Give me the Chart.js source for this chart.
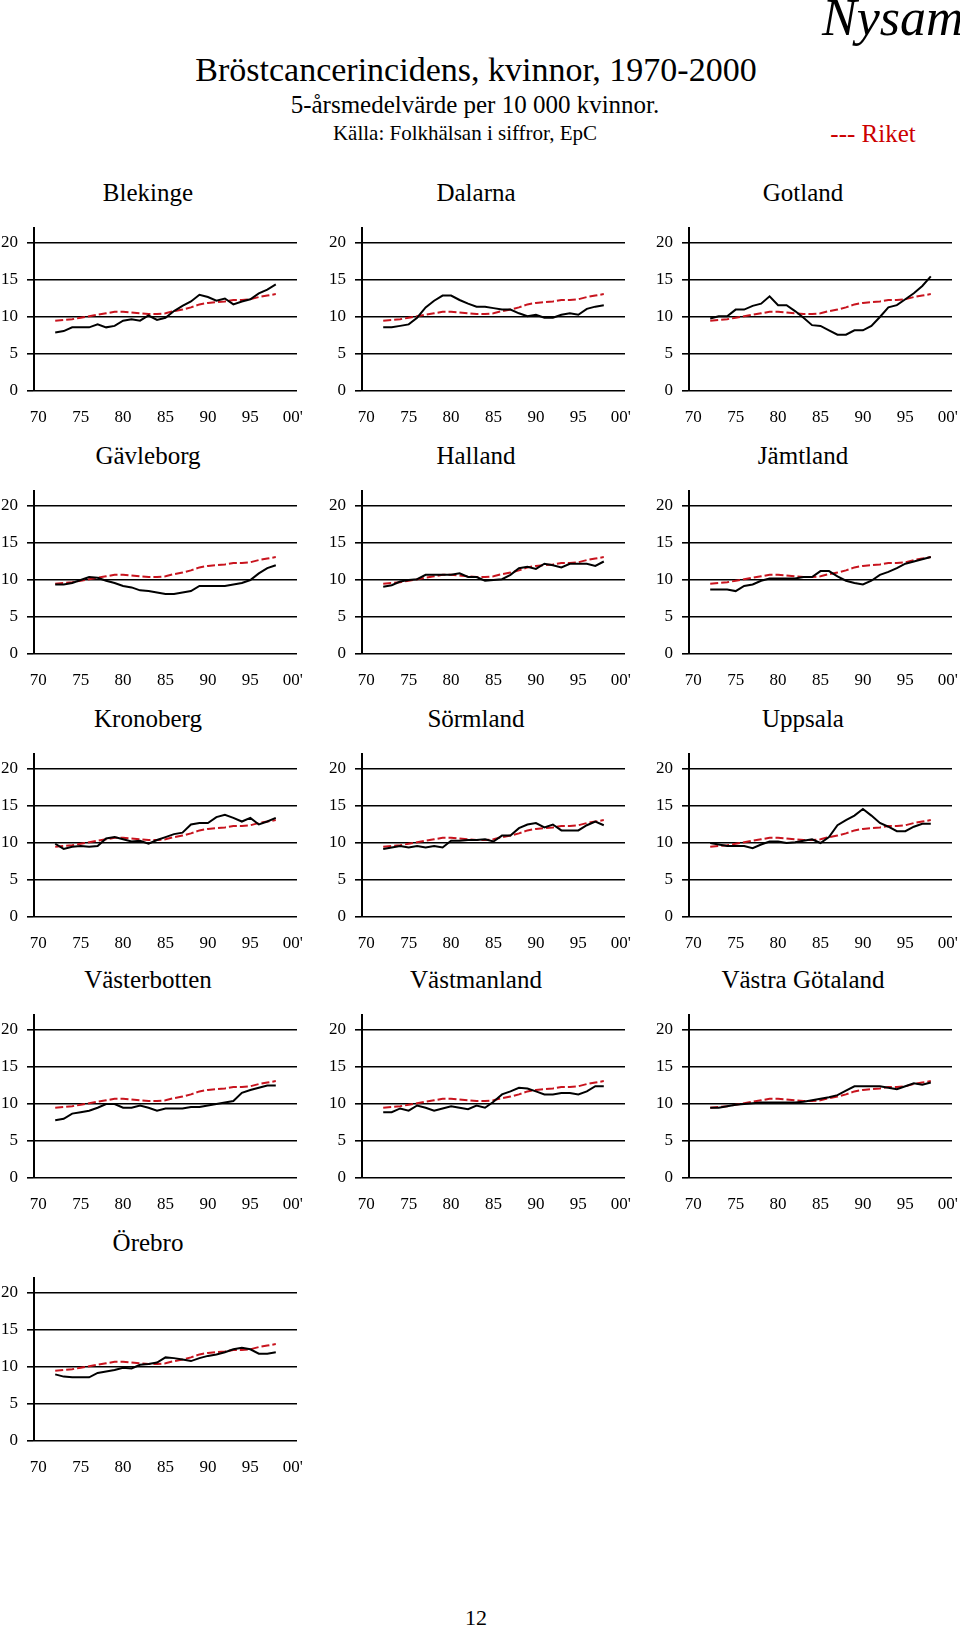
<!DOCTYPE html>
<html><head><meta charset="utf-8">
<script src="https://cdn.jsdelivr.net/npm/chart.js@4/dist/chart.umd.min.js"></script>
<style>
html,body{margin:0;padding:0;width:960px;height:1629px;overflow:hidden;background:#fff;font-family:"Liberation Serif","Times New Roman",serif;}
.t{position:absolute;white-space:nowrap;transform:translate(-50%,-50%);color:#000;line-height:1;}
canvas{position:absolute;}
</style></head><body>
<div class="t" style="left:476px;top:70px;font-size:34px">Bröstcancerincidens, kvinnor, 1970-2000</div>
<div class="t" style="left:475px;top:104px;font-size:25px">5-årsmedelvärde per 10 000 kvinnor.</div>
<div class="t" style="left:465px;top:133px;font-size:21px">Källa: Folkhälsan i siffror, EpC</div>
<div class="t" style="left:873px;top:133px;font-size:25px;color:#cc0000">--- Riket</div>
<div style="position:absolute;left:822px;top:-8px;font-size:52px;font-style:italic;white-space:nowrap;line-height:1">Nysam</div>
<div class="t" style="left:476px;top:1618px;font-size:22px">12</div>
<div id="wrap"></div>
<script>
const years = [72,73,74,75,76,77,78,79,80,81,82,83,84,85,86,87,88,89,90,91,92,93,94,95,96,97,98];
const xTickValues = [70,75,80,85,90,95,100];
const xTickLabels = ['70','75','80','85','90','95',"00'"];
const yTickValues = [0,5,10,15,20];
const regionNames = ['Blekinge','Dalarna','Gotland','Gävleborg','Halland','Jämtland','Kronoberg','Sörmland','Uppsala','Västerbotten','Västmanland','Västra Götaland','Örebro'];

const riket        = [9.5,9.6,9.7,9.9,10.1,10.3,10.5,10.7,10.7,10.6,10.5,10.4,10.4,10.5,10.8,11.0,11.3,11.7,11.9,12.0,12.1,12.3,12.3,12.4,12.7,12.9,13.1];
const blekinge     = [7.9,8.1,8.6,8.6,8.6,9.0,8.6,8.8,9.5,9.7,9.5,10.2,9.6,9.9,10.8,11.5,12.1,13.0,12.7,12.2,12.5,11.7,12.1,12.4,13.2,13.7,14.4];
const dalarna      = [8.6,8.6,8.8,9.0,9.9,11.3,12.2,12.9,12.9,12.3,11.8,11.4,11.4,11.2,11.0,11.0,10.5,10.1,10.3,9.9,9.9,10.3,10.5,10.3,11.1,11.4,11.6];
const gotland      = [9.8,10.1,10.1,11.0,11.0,11.5,11.8,12.8,11.6,11.6,10.8,9.9,8.9,8.8,8.2,7.6,7.6,8.2,8.2,8.8,10.0,11.3,11.6,12.4,13.2,14.2,15.5];
const gavleborg    = [9.4,9.4,9.6,10.0,10.4,10.3,9.9,9.6,9.2,9.0,8.6,8.5,8.3,8.1,8.1,8.3,8.5,9.2,9.2,9.2,9.2,9.4,9.6,10.0,10.9,11.6,12.0];
const halland      = [9.1,9.3,9.8,10.0,10.1,10.7,10.7,10.7,10.7,10.9,10.4,10.4,9.9,10.0,10.1,10.7,11.6,11.8,11.5,12.2,12.0,11.7,12.2,12.2,12.2,11.9,12.5];
const jamtland     = [8.7,8.7,8.7,8.5,9.2,9.4,9.9,10.2,10.2,10.2,10.2,10.4,10.4,11.2,11.2,10.5,9.9,9.6,9.4,9.9,10.7,11.1,11.6,12.2,12.5,12.8,13.1];
const kronoberg    = [9.9,9.2,9.5,9.6,9.5,9.6,10.6,10.8,10.5,10.2,10.3,9.9,10.4,10.8,11.2,11.4,12.5,12.7,12.7,13.5,13.8,13.4,12.9,13.4,12.5,12.9,13.4];
const sormland     = [9.2,9.4,9.6,9.4,9.6,9.4,9.6,9.4,10.3,10.3,10.4,10.4,10.5,10.2,11.0,11.0,12.0,12.5,12.7,12.1,12.5,11.7,11.7,11.7,12.4,12.9,12.4];
const uppsala      = [10.0,9.8,9.6,9.6,9.6,9.3,9.8,10.2,10.2,10.0,10.1,10.3,10.5,10.0,10.8,12.4,13.1,13.7,14.6,13.7,12.7,12.2,11.6,11.6,12.2,12.6,12.6];
const vasterbotten = [7.8,8.0,8.7,8.9,9.1,9.5,10.0,10.0,9.5,9.5,9.8,9.5,9.1,9.4,9.4,9.4,9.6,9.6,9.8,10.0,10.2,10.4,11.5,11.9,12.2,12.5,12.5];
const vastmanland  = [8.9,8.9,9.4,9.1,9.8,9.5,9.1,9.4,9.7,9.5,9.3,9.8,9.5,10.3,11.3,11.7,12.2,12.1,11.7,11.3,11.3,11.5,11.5,11.3,11.7,12.4,12.4];
const vastraGotaland = [9.5,9.5,9.7,9.9,10.0,10.1,10.2,10.2,10.2,10.2,10.2,10.3,10.5,10.7,10.9,11.2,11.8,12.4,12.4,12.4,12.4,12.2,12.0,12.4,12.8,12.6,12.9];
const orebro       = [9.0,8.7,8.6,8.6,8.6,9.2,9.4,9.6,9.9,9.8,10.3,10.4,10.6,11.3,11.2,11.0,10.8,11.2,11.5,11.7,12.0,12.4,12.6,12.4,11.8,11.8,12.0];

const regionSeries = [blekinge,dalarna,gotland,gavleborg,halland,jamtland,kronoberg,sormland,uppsala,vasterbotten,vastmanland,vastraGotaland,orebro];

// layout (pixels)
const colAxisX = [34, 362, 689];
const rowGrid20 = [243, 506, 769, 1030, 1293];
const plotW = 263, span20 = 148;
const topExtra = span20 * 22 / 20 - span20; // space for 20..22
const padTop = 40 - topExtra;
const canvasW = 310, xAxisH = 40;
const canvasH = padTop + span20 * 22 / 20 + xAxisH;

const wrap = document.getElementById('wrap');
const tickFont = {family: "'Liberation Serif','Times New Roman',serif", size: 17};

regionNames.forEach((name, i) => {
  const col = i % 3, row = Math.floor(i / 3);
  const left = colAxisX[col] - 34;
  const top = rowGrid20[row] - 40;

  const title = document.createElement('div');
  title.className = 't';
  title.style.left = (colAxisX[col] + 114) + 'px';
  title.style.top = (rowGrid20[row] - 51) + 'px';
  title.style.fontSize = '25px';
  title.textContent = name;
  wrap.appendChild(title);

  const cv = document.createElement('canvas');
  cv.width = canvasW; cv.height = Math.round(canvasH);
  cv.style.left = left + 'px'; cv.style.top = top + 'px';
  cv.style.width = canvasW + 'px'; cv.style.height = Math.round(canvasH) + 'px';
  wrap.appendChild(cv);

  const series = regionSeries[i];
  new Chart(cv, {
    type: 'line',
    data: {
      datasets: [
        {data: years.map((y, k) => ({x: y, y: series[k]})), borderColor: '#000', borderWidth: 2, pointRadius: 0, tension: 0, order: 0},
        {data: years.map((y, k) => ({x: y, y: riket[k]})), borderColor: '#c8141e', borderWidth: 2, borderDash: [8, 3], pointRadius: 0, tension: 0, order: 1}
      ]
    },
    options: {
      responsive: false, animation: false, devicePixelRatio: 1,
      layout: {padding: {top: padTop, right: canvasW - 34 - plotW, left: 0, bottom: Math.round(canvasH) - canvasH}},
      plugins: {legend: {display: false}, tooltip: {enabled: false}, title: {display: false}},
      scales: {
        x: {
          type: 'linear', min: 69.5, max: 100.5,
          grid: {display: true, drawOnChartArea: false, drawTicks: true, tickLength: 16, color: 'rgba(0,0,0,0)'},
          border: {display: false},
          ticks: {padding: 0, font: tickFont, color: '#000', maxRotation: 0, autoSkip: false,
                  callback: (v, idx) => xTickLabels[idx]},
          afterBuildTicks: s => { s.ticks = xTickValues.map(v => ({value: v})); },
          afterFit: s => { s.height = xAxisH; }
        },
        y: {
          min: 0, max: 22,
          grid: {color: '#000', lineWidth: 1.6, tickLength: 7, drawTicks: true},
          border: {display: true, color: '#000', width: 2},
          ticks: {padding: 9, font: tickFont, color: '#000'},
          afterBuildTicks: s => { s.ticks = yTickValues.map(v => ({value: v})); },
          afterFit: s => { s.width = 34; }
        }
      }
    }
  });
});
</script>
</body></html>
